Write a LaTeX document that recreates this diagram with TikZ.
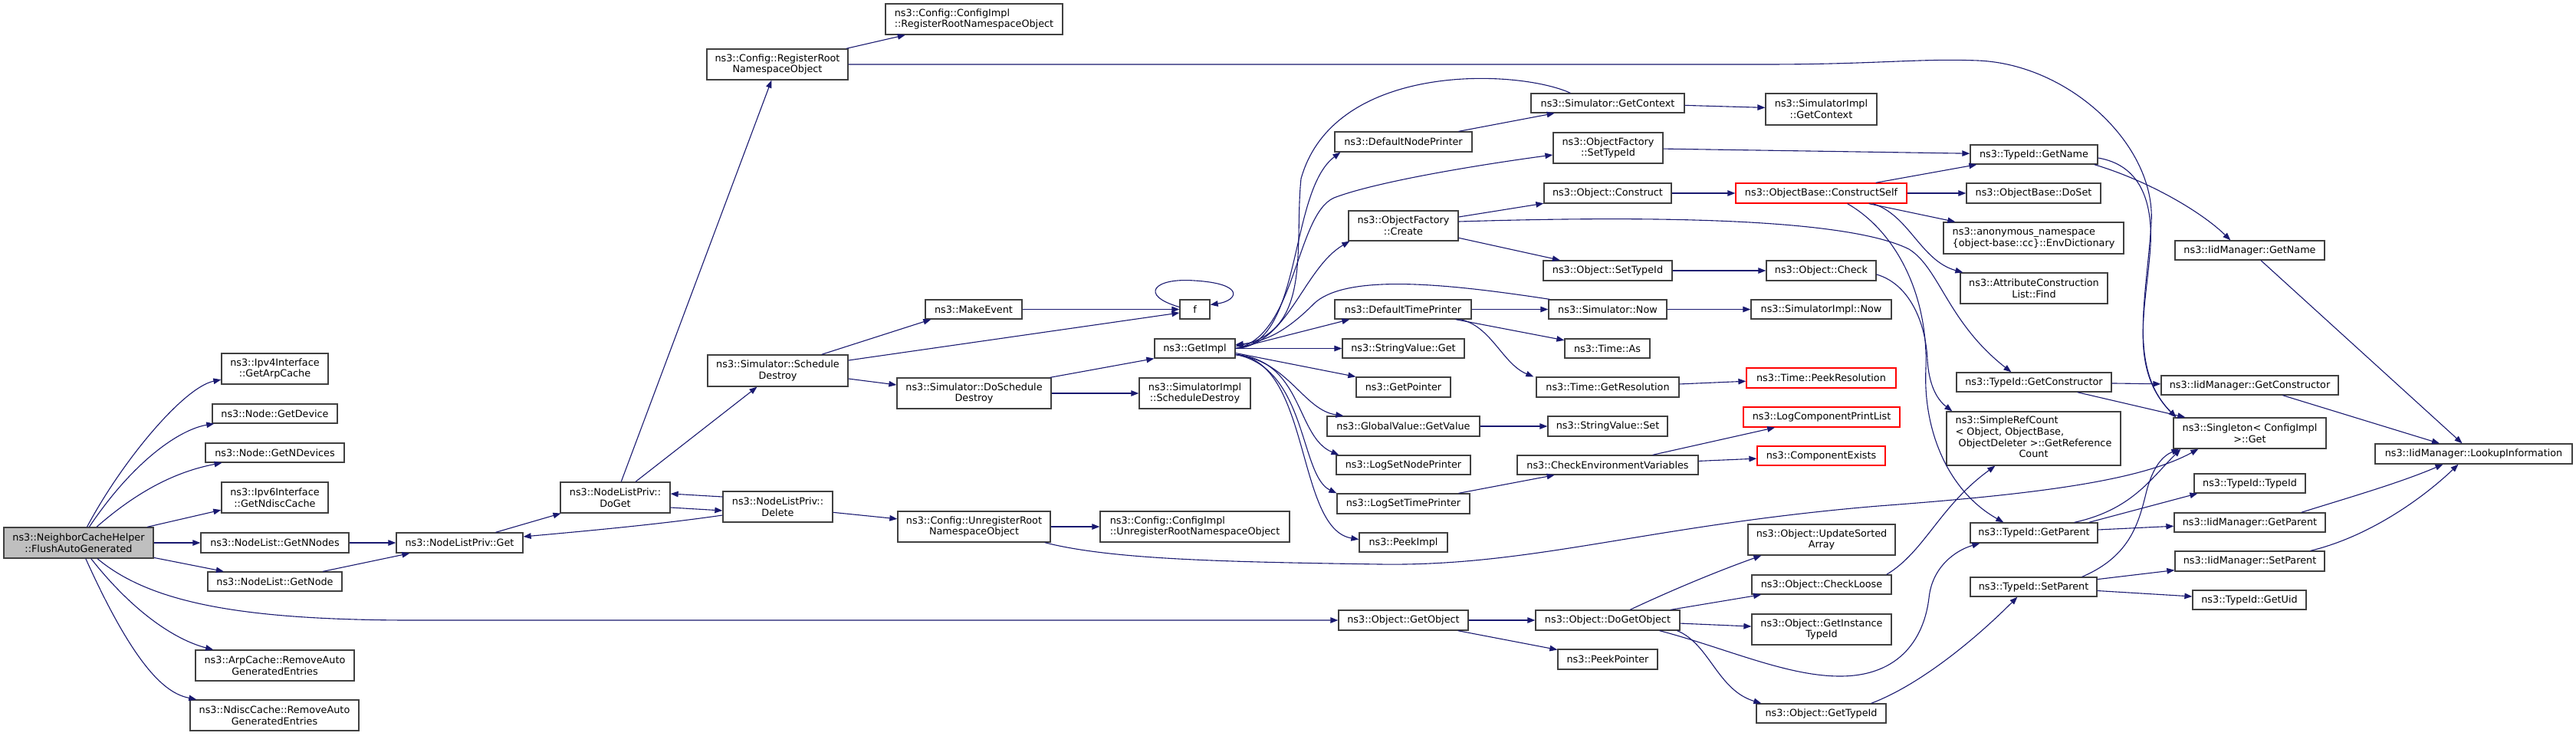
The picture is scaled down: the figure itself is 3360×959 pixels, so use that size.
\documentclass[tikz,border=0pt]{standalone}
\usepackage{fontspec}
\setmainfont{DejaVu Sans}
\usetikzlibrary{arrows.meta}
\definecolor{edgeblue}{HTML}{191970}
\definecolor{boxgrey}{HTML}{404040}
\definecolor{mainfill}{HTML}{BFBFBF}
\newcommand\gbox[7][]{%
  \node[gnode,#1,minimum width={#5-#3},minimum height={#6-#4}] (#2) at ({(#3+#5)/2},{(#4+#6)/2}) {#7};}
\begin{document}
\begin{tikzpicture}[x=1pt,y=-1pt,
  gnode/.style={draw=boxgrey, line width=1.3pt, fill=white, inner xsep=2pt, inner ysep=0pt,
    align=center, font=\fontsize{12.8}{14.7}\selectfont, text=black},
  cg/.style={draw=edgeblue, line width=1.1pt, -{Triangle[length=10pt,width=7.5pt]}},
]
\fill[white] (0,0) rectangle (3360,959);
\path[use as bounding box] (0,0) rectangle (3360,959);

% ---------- nodes ----------
\gbox[fill=mainfill]{main}{5}{688}{200}{728}{ns3::NeighborCacheHelper\\::FlushAutoGenerated}
\gbox{arp}{289}{461}{428}{501}{ns3::Ipv4Interface\\::GetArpCache}
\gbox{gdev}{277}{527}{440}{552}{ns3::Node::GetDevice}
\gbox{gndev}{268}{578}{449}{603}{ns3::Node::GetNDevices}
\gbox{ndc}{289}{629}{428}{669}{ns3::Ipv6Interface\\::GetNdiscCache}
\gbox{gnn}{262}{695}{455}{721}{ns3::NodeList::GetNNodes}
\gbox{gnode}{271}{746}{446}{771}{ns3::NodeList::GetNode}
\gbox{arprm}{255}{848}{462}{888}{ns3::ArpCache::RemoveAuto\\GeneratedEntries}
\gbox{ndrm}{248}{913}{468}{953}{ns3::NdiscCache::RemoveAuto\\GeneratedEntries}
\gbox{nlget}{517}{695}{682}{721}{ns3::NodeListPriv::Get}
\gbox{doget}{731}{629}{874}{669}{ns3::NodeListPriv::\\DoGet}
\gbox{del}{943}{641}{1086}{681}{ns3::NodeListPriv::\\Delete}
\gbox{regroot}{922}{64}{1106}{104}{ns3::Config::RegisterRoot\\NamespaceObject}
\gbox{schd}{923}{463}{1106}{504}{ns3::Simulator::Schedule\\Destroy}
\gbox[align=left]{cireg}{1155}{5}{1386}{45}{ns3::Config::ConfigImpl\\::RegisterRootNamespaceObject}
\gbox{mkev}{1207}{391}{1333}{416}{ns3::MakeEvent}
\gbox{f}{1539}{391}{1578}{416}{f}
\gbox{gimpl}{1506}{442}{1611}{467}{ns3::GetImpl}
\gbox{dosd}{1170}{493}{1371}{533}{ns3::Simulator::DoSchedule\\Destroy}
\gbox{sisd}{1486}{493}{1631}{533}{ns3::SimulatorImpl\\::ScheduleDestroy}
\gbox{unreg}{1171}{667}{1370}{707}{ns3::Config::UnregisterRoot\\NamespaceObject}
\gbox[align=left]{ciunreg}{1435}{667}{1682}{707}{ns3::Config::ConfigImpl\\::UnregisterRootNamespaceObject}
\gbox{sgc}{1997}{122}{2197}{147}{ns3::Simulator::GetContext}
\gbox{dnp}{1741}{172}{1920}{198}{ns3::DefaultNodePrinter}
\gbox{ofst}{2026}{173}{2169}{213}{ns3::ObjectFactory\\::SetTypeId}
\gbox{ocon}{2014}{239}{2180}{265}{ns3::Object::Construct}
\gbox{ofcr}{1759}{275}{1902}{314}{ns3::ObjectFactory\\::Create}
\gbox{ost}{2013}{340}{2181}{366}{ns3::Object::SetTypeId}
\gbox{dtp}{1741}{391}{1919}{416}{ns3::DefaultTimePrinter}
\gbox{snow}{2020}{391}{2174}{416}{ns3::Simulator::Now}
\gbox{svget}{1751}{442}{1910}{467}{ns3::StringValue::Get}
\gbox{tas}{2041}{442}{2152}{467}{ns3::Time::As}
\gbox{gptr}{1769}{492}{1892}{518}{ns3::GetPointer}
\gbox{tgr}{2004}{492}{2190}{518}{ns3::Time::GetResolution}
\gbox{gvgv}{1731}{543}{1930}{569}{ns3::GlobalValue::GetValue}
\gbox{svset}{2019}{543}{2175}{569}{ns3::StringValue::Set}
\gbox{lsnp}{1743}{594}{1918}{619}{ns3::LogSetNodePrinter}
\gbox{cev}{1979}{594}{2215}{619}{ns3::CheckEnvironmentVariables}
\gbox{lstp}{1744}{644}{1917}{670}{ns3::LogSetTimePrinter}
\gbox{pimpl}{1773}{695}{1888}{720}{ns3::PeekImpl}
\gbox{ogo}{1746}{796}{1915}{822}{ns3::Object::GetObject}
\gbox{odgo}{2003}{796}{2191}{822}{ns3::Object::DoGetObject}
\gbox{pptr}{2032}{847}{2162}{873}{ns3::PeekPointer}
\gbox{sigc}{2303}{122}{2448}{163}{ns3::SimulatorImpl\\::GetContext}
\gbox{tgn}{2570}{189}{2736}{214}{ns3::TypeId::GetName}
\gbox[draw=red]{cself}{2264}{239}{2487}{265}{ns3::ObjectBase::ConstructSelf}
\gbox{doset}{2565}{239}{2740}{265}{ns3::ObjectBase::DoSet}
\gbox[align=left]{envd}{2535}{290}{2770}{331}{ns3::anonymous\_namespace\\\{object-base::cc\}::EnvDictionary}
\gbox{acl}{2557}{356}{2749}{396}{ns3::AttributeConstruction\\List::Find}
\gbox{ochk}{2304}{340}{2447}{366}{ns3::Object::Check}
\gbox{sinow}{2284}{391}{2467}{416}{ns3::SimulatorImpl::Now}
\gbox[draw=red]{tpr}{2278}{480}{2473}{506}{ns3::Time::PeekResolution}
\gbox[draw=red]{lcpl}{2274}{531}{2478}{557}{ns3::LogComponentPrintList}
\gbox[draw=red]{cex}{2292}{582}{2459}{607}{ns3::ComponentExists}
\gbox{usa}{2280}{684}{2472}{724}{ns3::Object::UpdateSorted\\Array}
\gbox{ocl}{2285}{750}{2467}{775}{ns3::Object::CheckLoose}
\gbox{ogit}{2285}{801}{2467}{841}{ns3::Object::GetInstance\\TypeId}
\gbox{ogt}{2291}{918}{2460}{943}{ns3::Object::GetTypeId}
\gbox{tgc}{2552}{486}{2754}{511}{ns3::TypeId::GetConstructor}
\gbox{src}{2539}{537}{2766}{607}{\begin{tabular}{@{}l@{}}ns3::SimpleRefCount\\< Object, ObjectBase,\\\ ObjectDeleter >::GetReference\\\multicolumn{1}{@{}c@{}}{Count}\end{tabular}}
\gbox{tgp}{2570}{682}{2736}{708}{ns3::TypeId::GetParent}
\gbox{tsp}{2570}{753}{2735}{778}{ns3::TypeId::SetParent}
\gbox{ign}{2837}{314}{3032}{339}{ns3::IidManager::GetName}
\gbox{igc}{2819}{490}{3050}{515}{ns3::IidManager::GetConstructor}
\gbox{sgt}{2835}{545}{3034}{585}{ns3::Singleton< ConfigImpl\\ >::Get}
\gbox{lki}{3098}{579}{3355}{605}{ns3::IidManager::LookupInformation}
\gbox{tti}{2862}{618}{3007}{643}{ns3::TypeId::TypeId}
\gbox{igp}{2836}{669}{3033}{694}{ns3::IidManager::GetParent}
\gbox{isp}{2837}{719}{3032}{745}{ns3::IidManager::SetParent}
\gbox{tuid}{2860}{770}{3008}{795}{ns3::TypeId::GetUid}

% ---------- edges ----------
% main fan
\draw[cg] (main) .. controls (160,600) and (240,505) .. (arp);
\draw[cg] (main) .. controls (175,600) and (235,560) .. (gdev);
\draw[cg] (main) .. controls (180,640) and (230,615) .. (gndev);
\draw[cg] (main) -- (ndc);
\draw[cg] (main) -- (gnn);
\draw[cg] (main) -- (gnode);
\draw[cg] (main) .. controls (200,790) and (330,810) .. (560,809) -- (ogo);
\draw[cg] (main) .. controls (175,800) and (230,835) .. (arprm);
\draw[cg] (main) .. controls (180,880) and (220,905) .. (ndrm);

% node list
\draw[cg] (gnn) -- (nlget);
\draw[cg] (gnode) -- (nlget);
\draw[cg] (nlget) -- (doget);
\draw[cg] (doget) -- (regroot);
\draw[cg] (doget) -- (schd);
\draw[cg] ([yshift=-13pt]doget.east) -- ([yshift=-5pt]del.west);
\draw[cg] ([yshift=13pt]del.west) -- ([yshift=5pt]doget.east);
\draw[cg] ([yshift=-11pt]del.west) .. controls (860,684) and (760,693) .. ([yshift=8pt]nlget.east);
\draw[cg] (del) -- (unreg);

% config
\draw[cg] (regroot) -- (cireg);
\draw[cg] (regroot.east) -- (2300,84) .. controls (2450,84) and (2500,76) .. (2580,79) .. controls (2700,84) and (2812,190) .. (2806,290) .. controls (2800,390) and (2775,480) .. ([xshift=4pt]sgt.north west);
\draw[cg] (unreg) -- (ciunreg);
\draw[cg] ([xshift=-8pt]unreg.south east) .. controls (1450,730) and (1600,733) .. (1800,736) .. controls (2000,739) and (2150,685) .. (2450,660) .. controls (2650,645) and (2790,628) .. ([xshift=33pt]sgt.south west);

% schedule destroy
\draw[cg] ([xshift=-35pt]schd.north east) -- ([xshift=8pt]mkev.south west);
\draw[cg] ([yshift=13.5pt]schd.east) -- ([yshift=-4.5pt]f.west);
\draw[cg] ([yshift=-10.5pt]schd.east) -- ([yshift=11pt]dosd.west);
\draw[cg] (mkev) -- (f);
\draw[cg] ([yshift=3pt]f.west) .. controls (1485,385) and (1505,362) .. (1558,366) .. controls (1625,370) and (1615,392) .. ([yshift=6pt]f.east);
\draw[cg] ([xshift=-2pt]dosd.north east) -- (gimpl.south west);
\draw[cg] (dosd) -- (sisd);

% GetImpl fan
\draw[cg] (gimpl.east) .. controls (1700,450) and (1680,250) .. ([xshift=8pt]dnp.south west);
\draw[cg] (gimpl.east) .. controls (1690,440) and (1690,280) .. (1740,258) .. controls (1800,235) and (1950,212) .. ([yshift=-9pt]ofst.west);
\draw[cg] (gimpl.east) .. controls (1680,450) and (1700,350) .. ([xshift=2pt]ofcr.south west);
\draw[cg] (gimpl.east) -- ([xshift=20pt]dtp.south west);
\draw[cg] (gimpl) -- (svget);
\draw[cg] ([yshift=-6pt]gimpl.east) -- (gptr.north west);
\draw[cg] ([yshift=-8pt]gimpl.east) .. controls (1680,470) and (1700,535) .. ([xshift=22pt]gvgv.north west);
\draw[cg] ([yshift=-8pt]gimpl.east) .. controls (1700,470) and (1690,570) .. ([xshift=4pt]lsnp.north west);
\draw[cg] ([yshift=-8pt]gimpl.east) .. controls (1705,480) and (1695,620) .. (lstp.north west);
\draw[cg] ([yshift=-8pt]gimpl.east) .. controls (1710,470) and (1690,690) .. ([yshift=4pt]pimpl.west);
\draw[cg] ([xshift=52pt]sgc.north west) .. controls (1980,90) and (1740,80) .. (1697,233) .. controls (1688,320) and (1712,430) .. ([yshift=3pt]gimpl.east);
\draw[cg] ([xshift=2pt]snow.north west) .. controls (1900,372) and (1760,355) .. (1715,395) .. controls (1690,420) and (1660,445) .. ([yshift=5pt]gimpl.east);

% simulator / factory
\draw[cg] (dnp) -- (sgc);
\draw[cg] (sgc) -- (sigc);
\draw[cg] (ofst) -- (tgn);
\draw[cg] (ofcr) -- (ocon);
\draw[cg] (ofcr) -- (ost);
\draw[cg] ([yshift=5.5pt]ofcr.east) .. controls (2100,283) and (2400,280) .. (2490,325) .. controls (2530,350) and (2540,420) .. ([xshift=72pt]tgc.north west);
\draw[cg] (ocon) -- (cself);
\draw[cg] (ost) -- (ochk);
\draw[cg] (cself) -- (doset);
\draw[cg] ([xshift=-41pt]cself.north east) -- ([xshift=9pt]tgn.south west);
\draw[cg] ([xshift=-50pt]cself.south east) -- ([xshift=16pt]envd.north west);
\draw[cg] ([xshift=-45pt]cself.south east) .. controls (2490,280) and (2505,340) .. ([xshift=4pt]acl.north west);
\draw[cg] ([xshift=-78pt]cself.south east) .. controls (2470,300) and (2515,380) .. (2512,480) .. controls (2508,560) and (2540,640) .. ([xshift=44pt]tgp.north west);
\draw[cg] ([yshift=-5pt]ochk.east) .. controls (2490,370) and (2512,420) .. (2514,470) .. controls (2516,500) and (2525,520) .. ([xshift=8pt]src.north west);
\draw[cg] (dtp) -- (snow);
\draw[cg] (dtp) -- (tas);
\draw[cg] ([xshift=-15pt]dtp.south east) .. controls (1945,425) and (1960,475) .. ([xshift=-3pt]tgr.north west);
\draw[cg] (snow) -- (sinow);
\draw[cg] (tgr) -- (tpr);
\draw[cg] (gvgv) -- (svset);
\draw[cg] (lstp) -- (cev);
\draw[cg] (cev) -- (lcpl);
\draw[cg] (cev) -- (cex);

% object
\draw[cg] (ogo) -- (odgo);
\draw[cg] (ogo) -- (pptr);
\draw[cg] (odgo) .. controls (2180,770) and (2240,745) .. ([xshift=18pt]usa.south west);
\draw[cg] (odgo) -- (ocl);
\draw[cg] (odgo) -- (ogit);
\draw[cg] ([xshift=-27pt]odgo.south east) .. controls (2250,845) and (2330,882) .. (2400,882) .. controls (2480,882) and (2510,830) .. (2516,780) .. controls (2520,740) and (2550,718) .. ([xshift=13pt]tgp.south west);
\draw[cg] ([xshift=-4pt]odgo.south east) .. controls (2230,840) and (2240,900) .. ([xshift=7pt]ogt.north west);
\draw[cg] ([xshift=-20pt]ogt.north east) .. controls (2500,895) and (2570,840) .. ([xshift=62pt]tsp.south west);
\draw[cg] ([xshift=-7pt]ocl.north east) .. controls (2510,720) and (2530,660) .. ([xshift=64pt]src.south west);

% TypeId / IidManager
\draw[cg] (tgc) -- (igc);
\draw[cg] ([xshift=-45pt]tgc.south east) -- ([xshift=16pt]sgt.north west);
\draw[cg] ([xshift=-5pt]tgn.south east) .. controls (2800,235) and (2870,275) .. ([xshift=73pt]ign.north west);
\draw[cg] ([yshift=-4.5pt]tgn.east) .. controls (2790,215) and (2808,260) .. (2805,320) .. controls (2800,400) and (2775,480) .. ([xshift=4pt]sgt.north west);
\draw[cg] (ign) -- (lki);
\draw[cg] (igc) -- (lki);
\draw[cg] ([xshift=-32pt]igp.north east) .. controls (3060,650) and (3130,630) .. ([xshift=-40pt]lki.south);
\draw[cg] ([xshift=-19pt]isp.north east) .. controls (3090,700) and (3160,650) .. ([xshift=-20pt]lki.south);
\draw[cg] ([xshift=-31pt]tgp.north east) .. controls (2780,665) and (2805,625) .. ([xshift=10pt]sgt.south west);
\draw[cg] ([xshift=-12pt]tgp.north east) -- ([xshift=5pt]tti.south west);
\draw[cg] (tgp) -- (igp);
\draw[cg] ([xshift=-20pt]tsp.north east) .. controls (2780,725) and (2790,680) .. (2800,640) .. controls (2808,610) and (2820,595) .. ([xshift=8pt]sgt.south west);
\draw[cg] (tsp) -- (isp);
\draw[cg] (tsp) -- (tuid);
\end{tikzpicture}
\end{document}
